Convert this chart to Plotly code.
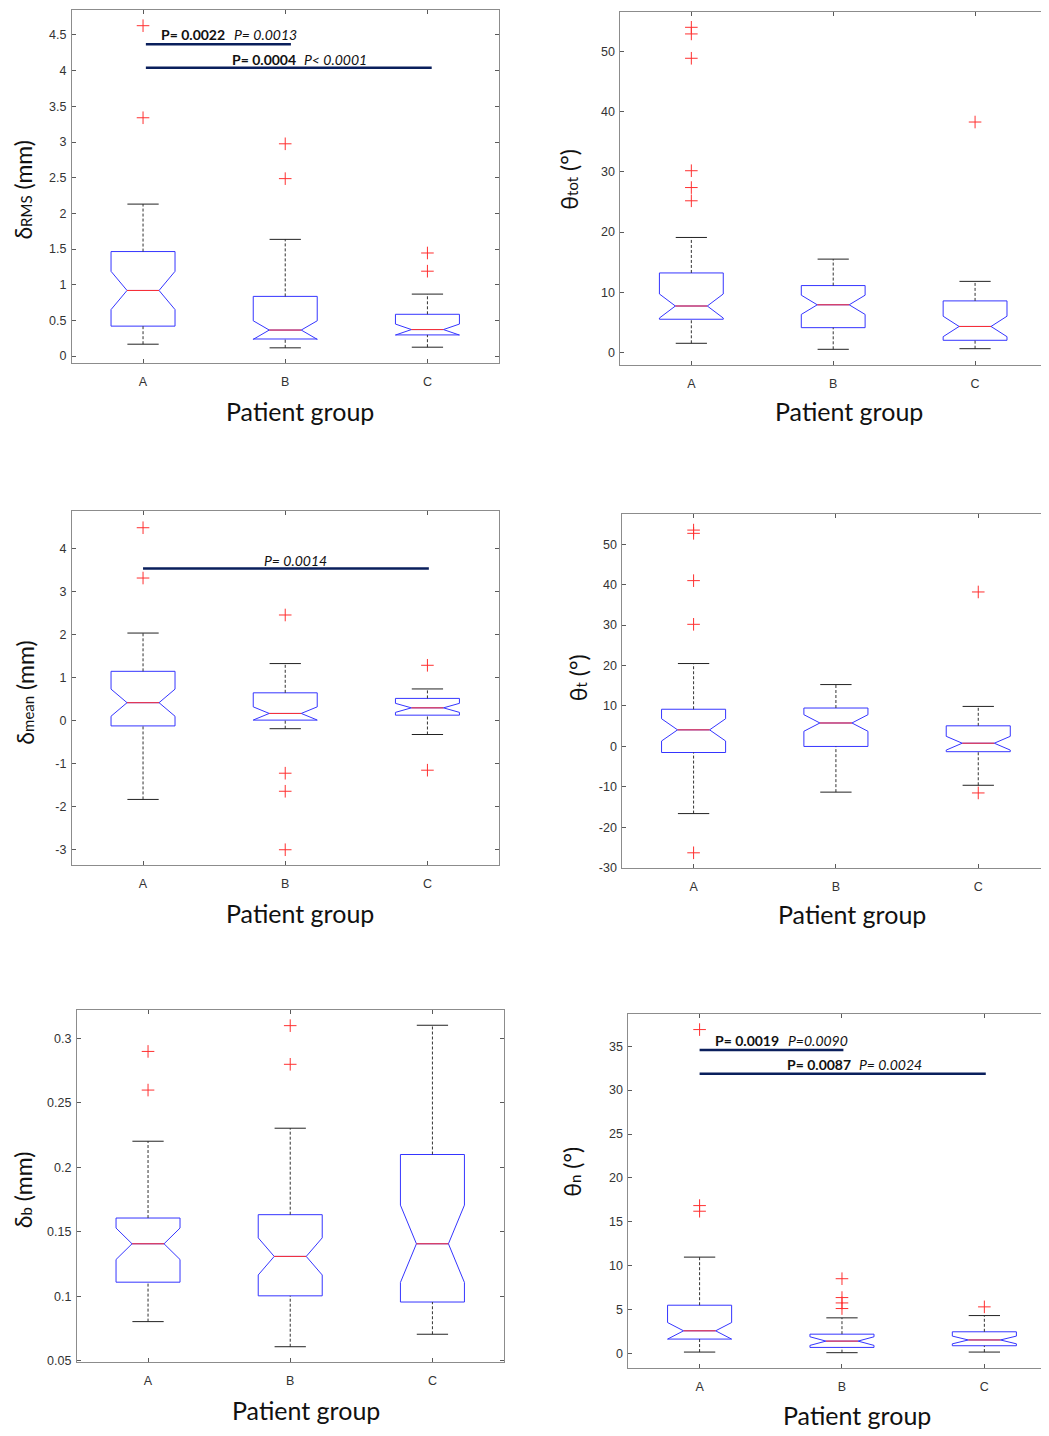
import plotly.graph_objects as go

PAGE_W, PAGE_H = 1049, 1436
OFF = 8  # default page body margin
W, H = PAGE_W - OFF, PAGE_H - OFF
groups = ["A", "B", "C"]
pos = [1, 2, 3]

# ---- delta RMS (mm) ----
rms_lo = [0.167, 0.116, 0.125]
rms_q1 = [0.42, 0.24, 0.297]
rms_med = [0.92, 0.365, 0.372]
rms_q3 = [1.465, 0.837, 0.586]
rms_hi = [2.13, 1.636, 0.869]
rms_notch = [0.268, 0.13, 0.077]
rms_out = [[4.63, 3.34], [2.975, 2.487], [1.445, 1.19]]

# ---- theta tot (deg) ----
tot_lo = [1.5, 0.5, 0.6]
tot_q1 = [5.5, 4.1, 2.0]
tot_med = [7.7, 7.9, 4.3]
tot_q3 = [13.2, 11.1, 8.55]
tot_hi = [19.1, 15.5, 11.8]
tot_notch = [2.0, 1.6, 1.7]
tot_out = [[54.05, 52.95, 48.9, 30.2, 27.4, 25.2], [], [38.3]]

# ---- delta mean (mm) ----
mean_lo = [-1.83, -0.185, -0.32]
mean_q1 = [-0.12, 0.015, 0.13]
mean_med = [0.42, 0.17, 0.30]
mean_q3 = [1.15, 0.65, 0.52]
mean_hi = [2.04, 1.33, 0.74]
mean_notch = [0.315, 0.153, 0.105]
mean_out = [[4.49, 3.32], [2.46, -1.22, -1.64, -3.0], [1.29, -1.15]]

# ---- theta t (deg) ----
tt_lo = [-16.6, -11.3, -9.6]
tt_q1 = [-1.5, 0.0, -1.3]
tt_med = [4.1, 5.8, 0.8]
tt_q3 = [9.2, 9.5, 5.1]
tt_hi = [20.5, 15.3, 9.9]
tt_notch = [2.75, 2.05, 1.7]
tt_out = [[53.5, 52.7, 41.0, 30.2, -26.3], [], [38.2, -11.5]]

# ---- delta b (mm) ----
db_lo = [0.0803, 0.0608, 0.0705]
db_q1 = [0.1109, 0.1003, 0.0955]
db_med = [0.1407, 0.1309, 0.1407]
db_q3 = [0.1607, 0.1633, 0.210]
db_hi = [0.2203, 0.2304, 0.3103]
db_notch = [0.0122, 0.0144, 0.030]
db_out = [[0.290, 0.260], [0.310, 0.280], []]

# ---- theta n (deg) ----
tn_lo = [0.15, 0.08, 0.15]
tn_q1 = [1.63, 0.68, 0.87]
tn_med = [2.57, 1.40, 1.53]
tn_q3 = [5.49, 2.19, 2.46]
tn_hi = [10.97, 4.05, 4.31]
tn_notch = [0.945, 0.49, 0.44]
tn_out = [[36.9, 16.84, 16.2], [8.51, 6.36, 5.75, 5.11], [5.3]]

# y tick labels
rms_ticks = [0, 0.5, 1, 1.5, 2, 2.5, 3, 3.5, 4, 4.5]
rms_tlab = ["0", "0.5", "1", "1.5", "2", "2.5", "3", "3.5", "4", "4.5"]
tot_ticks = [0, 10, 20, 30, 40, 50]
tot_tlab = ["0", "10", "20", "30", "40", "50"]
mean_ticks = [-3, -2, -1, 0, 1, 2, 3, 4]
mean_tlab = ["-3", "-2", "-1", "0", "1", "2", "3", "4"]
tt_ticks = [-30, -20, -10, 0, 10, 20, 30, 40, 50]
tt_tlab = ["-30", "-20", "-10", "0", "10", "20", "30", "40", "50"]
db_ticks = [0.05, 0.1, 0.15, 0.2, 0.25, 0.3]
db_tlab = ["0.05", "0.1", "0.15", "0.2", "0.25", "0.3"]
tn_ticks = [0, 5, 10, 15, 20, 25, 30, 35]
tn_tlab = ["0", "5", "10", "15", "20", "25", "30", "35"]

# significance bars: (x0, x1, y)
rms_bars = [(1.02, 2.04, 4.37), (1.02, 3.03, 4.04)]
rms_ptext = [("<b>P= 0.0022</b>", 1.352, 4.50), ("<i>P= 0.0013</i>", 1.86, 4.50),
             ("<b>P= 0.0004</b>", 1.849, 4.15), ("<i>P&lt; 0.0001</i>", 2.357, 4.15)]
mean_bars = [(1.0, 3.01, 3.54)]
mean_ptext = [("<i>P= 0.0014</i>", 2.069, 3.73)]
tn_bars = [(1.0, 2.01, 34.58), (1.0, 3.01, 31.86)]
tn_ptext = [("<b>P= 0.0019</b>", 1.335, 35.64), ("<i>P=0.0090</i>", 1.829, 35.64),
            ("<b>P= 0.0087</b>", 1.836, 32.92), ("<i>P= 0.0024</i>", 2.338, 32.92)]

SUB = '<span style="font-size:15px">{}</span>'
ytitles = ["δ" + SUB.format("RMS") + " (mm)", "θ" + SUB.format("tot") + " (°)",
           "δ" + SUB.format("mean") + " (mm)", "θ" + SUB.format("t") + " (°)",
           "δ" + SUB.format("b") + " (mm)", "θ" + SUB.format("n") + " (°)"]

panels = [
    dict(lo=rms_lo, q1=rms_q1, med=rms_med, q3=rms_q3, hi=rms_hi, notch=rms_notch, out=rms_out,
         ticks=rms_ticks, tlab=rms_tlab, yr=[-0.1, 4.85], xr=[0.5, 3.5],
         px=(72, 499), py=(10, 365), bars=rms_bars, ptext=rms_ptext,
         xt=(300.7, 413), yt=(8, 190.5)),
    dict(lo=tot_lo, q1=tot_q1, med=tot_med, q3=tot_q3, hi=tot_hi, notch=tot_notch, out=tot_out,
         ticks=tot_ticks, tlab=tot_tlab, yr=[-2.15, 56.6], xr=[0.5, 3.5],
         px=(621, 1047), py=(12, 367), bars=[], ptext=[],
         xt=(850, 413), yt=(555, 180)),
    dict(lo=mean_lo, q1=mean_q1, med=mean_med, q3=mean_q3, hi=mean_hi, notch=mean_notch, out=mean_out,
         ticks=mean_ticks, tlab=mean_tlab, yr=[-3.35, 4.89], xr=[0.5, 3.5],
         px=(72, 499), py=(513, 869), bars=mean_bars, ptext=mean_ptext,
         xt=(300.7, 917), yt=(10, 696)),
    dict(lo=tt_lo, q1=tt_q1, med=tt_med, q3=tt_q3, hi=tt_hi, notch=tt_notch, out=tt_out,
         ticks=tt_ticks, tlab=tt_tlab, yr=[-30, 57.6], xr=[0.5, 3.49],
         px=(623, 1049), py=(516, 872), bars=[], ptext=[],
         xt=(853, 918), yt=(563, 681)),
    dict(lo=db_lo, q1=db_q1, med=db_med, q3=db_q3, hi=db_hi, notch=db_notch, out=db_out,
         ticks=db_ticks, tlab=db_tlab, yr=[0.0487, 0.3221], xr=[0.5, 3.5],
         px=(77, 504), py=(1015, 1369), bars=[], ptext=[],
         xt=(306, 1417), yt=(8, 1196)),
    dict(lo=tn_lo, q1=tn_q1, med=tn_med, q3=tn_q3, hi=tn_hi, notch=tn_notch, out=tn_out,
         ticks=tn_ticks, tlab=tn_tlab, yr=[-1.7, 38.67], xr=[0.5, 3.447],
         px=(629, 1049), py=(1019, 1375), bars=tn_bars, ptext=tn_ptext,
         xt=(857.5, 1422), yt=(558, 1177)),
]

BOXW = 0.45
HALF = BOXW / 2
MEDHALF = HALF * 0.5
CAPHALF = 0.11
BLUE = "#3535ff"
RED = "#ff3030"
NAVY = "#0a1f5c"
TFONT = "Lato"


def fx(px):
    return min(max((px - OFF) / W, 0.0), 1.0)


def fy(py):
    return min(max(1 - (py - OFF) / H, 0.0), 1.0)


fig = go.Figure()
annotations = []
layout = {}

for i, p in enumerate(panels, start=1):
    xa = "x" if i == 1 else f"x{i}"
    ya = "y" if i == 1 else f"y{i}"
    fig.add_trace(go.Box(
        x=pos, q1=p["q1"], median=p["med"], q3=p["q3"],
        lowerfence=p["q1"], upperfence=p["q3"], notchspan=p["notch"],
        notched=True, notchwidth=0.25, width=BOXW, whiskerwidth=0,
        boxpoints=False, line=dict(color=BLUE, width=1),
        fillcolor="rgba(0,0,0,0)", xaxis=xa, yaxis=ya, showlegend=False,
        hoverinfo="skip"))
    for k, xc in enumerate(pos):
        fig.add_trace(go.Scatter(
            x=[xc, xc, None, xc, xc], y=[p["q3"][k], p["hi"][k], None, p["lo"][k], p["q1"][k]],
            mode="lines", line=dict(color="#333333", width=1, dash="3px,2px"),
            xaxis=xa, yaxis=ya, showlegend=False, hoverinfo="skip"))
        fig.add_trace(go.Scatter(
            x=[xc - CAPHALF, xc + CAPHALF, None, xc - CAPHALF, xc + CAPHALF],
            y=[p["hi"][k], p["hi"][k], None, p["lo"][k], p["lo"][k]],
            mode="lines", line=dict(color="#222222", width=1),
            xaxis=xa, yaxis=ya, showlegend=False, hoverinfo="skip"))
        fig.add_trace(go.Scatter(
            x=[xc - MEDHALF, xc + MEDHALF], y=[p["med"][k], p["med"][k]],
            mode="lines", line=dict(color=RED, width=1),
            xaxis=xa, yaxis=ya, showlegend=False, hoverinfo="skip"))
        if p["out"][k]:
            fig.add_trace(go.Scatter(
                x=[xc] * len(p["out"][k]), y=p["out"][k], mode="markers",
                marker=dict(symbol="cross-thin", size=9, line=dict(color=RED, width=1)),
                xaxis=xa, yaxis=ya, showlegend=False, hoverinfo="skip"))
    for (x0, x1, yb) in p["bars"]:
        fig.add_trace(go.Scatter(
            x=[x0, x1], y=[yb, yb], mode="lines", line=dict(color=NAVY, width=2.6),
            xaxis=xa, yaxis=ya, showlegend=False, hoverinfo="skip"))
    for (txt, tx, ty) in p["ptext"]:
        annotations.append(dict(text=txt, x=tx, y=ty, xref=xa, yref=ya, showarrow=False,
                                font=dict(family=TFONT, size=14, color="#111111"),
                                xanchor="center", yanchor="middle"))

    x0p, x1p = p["px"]
    y0p, y1p = p["py"]
    axcommon = dict(showline=True, linecolor="#8c8c8c", linewidth=1, mirror="ticks",
                    ticks="inside", ticklen=4, tickcolor="#5a5a5a", showgrid=False,
                    zeroline=False, tickfont=dict(family="Liberation Sans", size=12.5, color="#333333"))
    layout["xaxis" if i == 1 else f"xaxis{i}"] = dict(
        domain=[fx(x0p), fx(x1p)], anchor=ya, range=p["xr"],
        tickvals=pos, ticktext=groups, ticklabelstandoff=7, **axcommon)
    layout["yaxis" if i == 1 else f"yaxis{i}"] = dict(
        domain=[fy(y1p), fy(y0p)], anchor=xa, range=p["yr"],
        tickvals=p["ticks"], ticktext=p["tlab"], ticklabelstandoff=2, **axcommon)

    annotations.append(dict(text="Patient group", x=fx(p["xt"][0]), y=fy(p["xt"][1]),
                            xref="paper", yref="paper", showarrow=False,
                            font=dict(family=TFONT, size=25, color="#111111"),
                            xanchor="center", yanchor="middle"))
    annotations.append(dict(text=ytitles[i - 1], x=fx(p["yt"][0]), y=fy(p["yt"][1]),
                            xref="paper", yref="paper", showarrow=False, textangle=-90,
                            borderpad=0,
                            font=dict(family=TFONT, size=23, color="#111111"),
                            xanchor="left", yanchor="middle"))

fig.update_layout(width=W, height=H, margin=dict(l=0, r=0, t=0, b=0),
                  paper_bgcolor="white", plot_bgcolor="white",
                  annotations=annotations, showlegend=False, **layout)
fig.write_html("out.html")
